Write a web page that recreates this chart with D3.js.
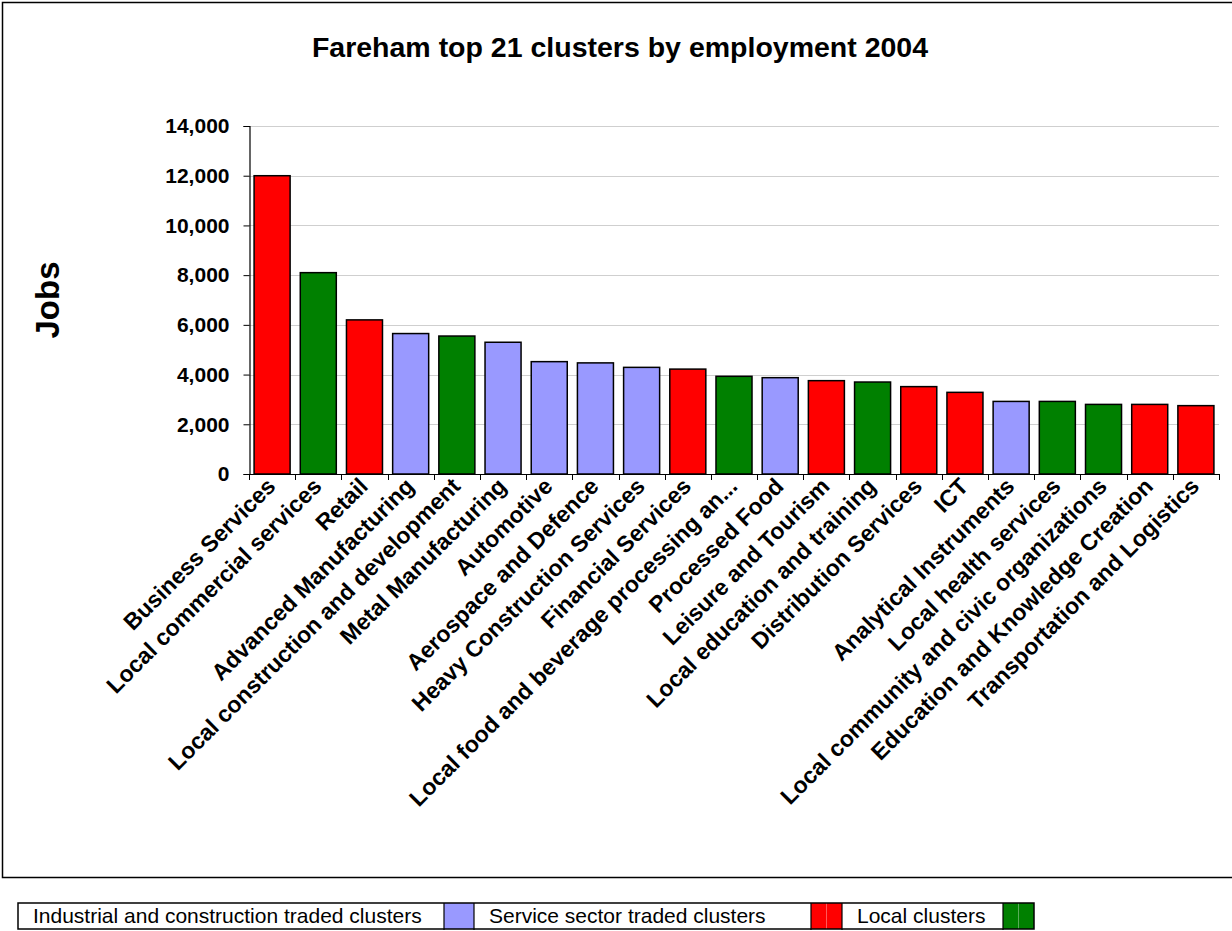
<!DOCTYPE html>
<html>
<head>
<meta charset="utf-8">
<script src="https://cdn.jsdelivr.net/npm/d3@7"></script>
<style>
  html, body { margin: 0; padding: 0; background: #fff; }
  svg { display: block; font-family: "Liberation Sans", Arial, sans-serif; }
</style>
</head>
<body>
<svg id="chart" width="1232" height="931"></svg>
<script>
const categories = [
  "Business Services", "Local commercial services", "Retail", "Advanced Manufacturing",
  "Local construction and development", "Metal Manufacturing", "Automotive",
  "Aerospace and Defence", "Heavy Construction Services", "Financial Services",
  "Local food and beverage processing an...", "Processed Food", "Leisure and Tourism",
  "Local education and training", "Distribution Services", "ICT", "Analytical Instruments",
  "Local health services", "Local community and civic organizations",
  "Education and Knowledge Creation", "Transportation and Logistics"
];
const jobs = [12000, 8100, 6200, 5650, 5550, 5300, 4520, 4470, 4290, 4220,
  3930, 3875, 3755, 3700, 3515, 3285, 2920, 2920, 2800, 2800, 2750];
const group = ["local", "local2", "local", "traded", "local2", "traded", "traded", "traded",
  "traded", "local", "local2", "traded", "local", "local2", "local", "local", "traded",
  "local2", "local2", "local", "local"];
const groupColors = { traded: "#9999FF", local: "#FF0000", local2: "#008000" };
const yTicks = [0, 2000, 4000, 6000, 8000, 10000, 12000, 14000];
const legendLabels = ["Industrial and construction traded clusters", "Service sector traded clusters", "Local clusters"];
const legendSwatches = ["traded", "local", "local2"];
const title = "Fareham top 21 clusters by employment 2004";
const yTitle = "Jobs";

const svg = d3.select("#chart");

// chart frame
svg.append("rect").attr("x", 2.5).attr("y", 2.5).attr("width", 1240).attr("height", 875)
  .attr("fill", "#fff").attr("stroke", "#000").attr("stroke-width", 1.5);

const x = d3.scaleBand().domain(categories).range([249, 1219]).paddingInner(0.22).paddingOuter(0.11);
const y = d3.scaleLinear().domain([0, 14000]).range([474, 126]);

// gridlines
svg.append("g").selectAll("line").data(yTicks.filter(d => d > 0)).join("line")
  .attr("x1", 249).attr("x2", 1219)
  .attr("y1", d => Math.round(y(d)) + 0.5).attr("y2", d => Math.round(y(d)) + 0.5)
  .attr("stroke", "#cfcfcf").attr("stroke-width", 1);

// bars
svg.append("g").selectAll("rect").data(categories).join("rect")
  .attr("x", d => x(d))
  .attr("y", (d, i) => y(jobs[i]))
  .attr("width", x.bandwidth())
  .attr("height", (d, i) => y(0) - y(jobs[i]))
  .attr("fill", (d, i) => groupColors[group[i]])
  .attr("stroke", "#000").attr("stroke-width", 1.5);

// y axis
const yAxis = d3.axisLeft(y).tickValues(yTicks).tickFormat(d3.format(",")).tickSizeOuter(0).tickSize(6).tickPadding(14);
const gy = svg.append("g").attr("transform", "translate(249.5,0)").call(yAxis);
gy.selectAll("text").attr("font-size", 21).attr("font-weight", "bold").attr("fill", "#000")
  .attr("font-family", "Liberation Sans, Arial, sans-serif");
gy.select(".domain").attr("stroke", "#000").attr("stroke-width", 1.2);
gy.selectAll(".tick line").attr("stroke", "#000");

// x axis line + boundary ticks
const gx = svg.append("g");
gx.append("line").attr("x1", 249).attr("x2", 1219).attr("y1", 474.5).attr("y2", 474.5)
  .attr("stroke", "#000").attr("stroke-width", 1.2);
const step = x.step();
gx.selectAll("line.tk").data(d3.range(categories.length + 1)).join("line").attr("class", "tk")
  .attr("x1", i => Math.round(249 + i * step) + 0.5).attr("x2", i => Math.round(249 + i * step) + 0.5)
  .attr("y1", 474).attr("y2", 480).attr("stroke", "#000");

// x labels
gx.selectAll("text").data(categories).join("text")
  .attr("transform", d => `translate(${x(d) + x.bandwidth() / 2 - 1},${482}) rotate(-45)`)
  .attr("text-anchor", "end").attr("dy", "0.35em")
  .attr("font-size", 23).attr("font-weight", "bold").attr("fill", "#000")
  .text(d => d);

// title
svg.append("text").attr("x", 620).attr("y", 57).attr("text-anchor", "middle")
  .attr("font-size", 28.5).attr("font-weight", "bold").text(title);

// y title
svg.append("text").attr("transform", "translate(59,300) rotate(-90)").attr("text-anchor", "middle")
  .attr("font-size", 33).attr("font-weight", "bold").text(yTitle);

// legend
const legendCells = [
  { x0: 18, x1: 444, type: "text", i: 0 }, { x0: 444, x1: 474, type: "sw", i: 0 },
  { x0: 474, x1: 811, type: "text", i: 1 }, { x0: 811, x1: 842, type: "sw", i: 1 },
  { x0: 842, x1: 1003, type: "text", i: 2 }, { x0: 1003, x1: 1034, type: "sw", i: 2 }
];
const lg = svg.append("g");
const ly0 = 903, ly1 = 929;
legendCells.forEach(c => {
  if (c.type === "text") {
    lg.append("rect").attr("x", c.x0).attr("y", ly0).attr("width", c.x1 - c.x0).attr("height", ly1 - ly0)
      .attr("fill", "#fff");
    lg.append("text").attr("x", c.x0 + 15).attr("y", ly1 - 6).attr("font-size", 21)
      .attr("fill", "#000").text(legendLabels[c.i]);
  } else {
    lg.append("rect").attr("x", c.x0).attr("y", ly0).attr("width", c.x1 - c.x0).attr("height", ly1 - ly0)
      .attr("fill", groupColors[legendSwatches[c.i]]);
    if (c.i > 0) {
      lg.append("line").attr("x1", (c.x0 + c.x1) / 2).attr("x2", (c.x0 + c.x1) / 2)
        .attr("y1", ly0).attr("y2", ly1).attr("stroke", "#fff").attr("stroke-opacity", 0.35);
    }
  }
});
lg.append("rect").attr("x", 18).attr("y", ly0).attr("width", 1016).attr("height", ly1 - ly0)
  .attr("fill", "none").attr("stroke", "#000").attr("stroke-width", 1.5);
legendCells.slice(1).forEach(c => {
  lg.append("line").attr("x1", c.x0).attr("x2", c.x0).attr("y1", ly0).attr("y2", ly1 + 1)
    .attr("stroke", "#000").attr("stroke-width", 1.2);
});
</script>
</body>
</html>
